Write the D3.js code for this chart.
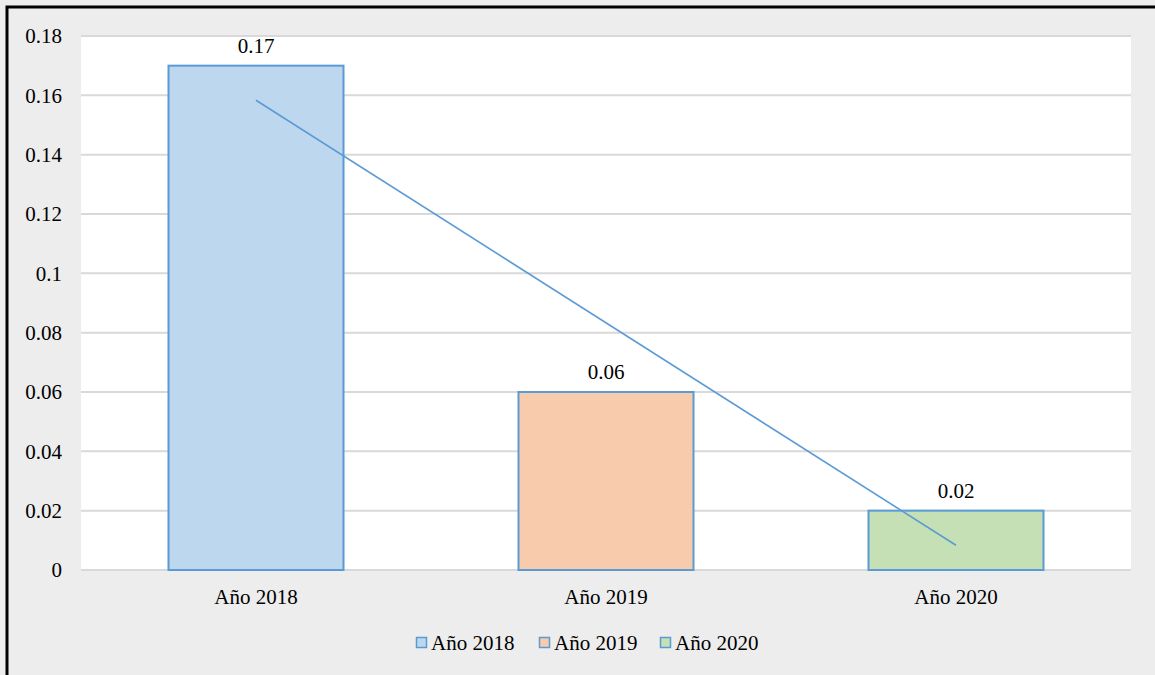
<!DOCTYPE html>
<html>
<head>
<meta charset="utf-8">
<script src="https://cdn.jsdelivr.net/npm/d3@7"></script>
<style>
  body { margin: 0; background: #fff; }
</style>
</head>
<body>
<div id="chart"></div>
<script>
const categories = ["Año 2018", "Año 2019", "Año 2020"];
const values = [0.17, 0.06, 0.02];
const barColours = ["#BDD7EE", "#F8CBAD", "#C5E0B4"];
const yTicks = [0, 0.02, 0.04, 0.06, 0.08, 0.1, 0.12, 0.14, 0.16, 0.18];

const width = 1155, height = 675;
const margin = { top: 36, right: 24, bottom: 105, left: 81 };
const fontFamily = "'Liberation Serif', 'Times New Roman', Times, serif";
const fontSize = "21px";

const svg = d3.select("#chart").append("svg")
  .attr("width", width)
  .attr("height", height)
  .attr("font-family", fontFamily)
  .attr("font-size", fontSize);

// background + frame
svg.append("rect").attr("x", 0).attr("y", 0).attr("width", width).attr("height", height).attr("fill", "#EDEDED");
svg.append("path")
  .attr("d", `M7,${height} V7 H${width}`)
  .attr("fill", "none").attr("stroke", "#000").attr("stroke-width", 3);

const x = d3.scaleBand().domain(categories)
  .range([margin.left, width - margin.right])
  .paddingInner(0.5).paddingOuter(0.25);

const y = d3.scaleLinear().domain([0, 0.18])
  .range([height - margin.bottom, margin.top]);

// plot area
svg.append("rect")
  .attr("x", margin.left).attr("y", margin.top)
  .attr("width", width - margin.left - margin.right)
  .attr("height", height - margin.top - margin.bottom)
  .attr("fill", "#fff");

// gridlines
svg.append("g").selectAll("line")
  .data(yTicks)
  .enter().append("line")
  .attr("x1", margin.left).attr("x2", width - margin.right)
  .attr("y1", d => y(d)).attr("y2", d => y(d))
  .attr("stroke", "#D9D9D9").attr("stroke-width", 2);

// y tick labels
svg.append("g").selectAll("text")
  .data(yTicks)
  .enter().append("text")
  .attr("x", 62).attr("y", d => y(d))
  .attr("dy", "0.35em")
  .attr("text-anchor", "end")
  .text(d => d3.format("")(d));

// bars
svg.append("g").selectAll("rect")
  .data(values)
  .enter().append("rect")
  .attr("x", (d, i) => x(categories[i]))
  .attr("y", d => y(d))
  .attr("width", x.bandwidth())
  .attr("height", d => y(0) - y(d))
  .attr("fill", (d, i) => barColours[i])
  .attr("stroke", "#5B9BD5").attr("stroke-width", 2);

// value labels
svg.append("g").selectAll("text")
  .data(values)
  .enter().append("text")
  .attr("x", (d, i) => x(categories[i]) + x.bandwidth() / 2)
  .attr("y", d => y(d) - 20)
  .attr("dy", "0.35em")
  .attr("text-anchor", "middle")
  .text(d => d);

// x labels
svg.append("g").selectAll("text")
  .data(categories)
  .enter().append("text")
  .attr("x", d => x(d) + x.bandwidth() / 2)
  .attr("y", 597)
  .attr("dy", "0.35em")
  .attr("text-anchor", "middle")
  .text(d => d);

// linear trendline (least squares over bar values)
const n = values.length;
const xs = values.map((d, i) => i + 1);
const mx = d3.mean(xs), my = d3.mean(values);
const slope = d3.sum(xs, (xi, i) => (xi - mx) * (values[i] - my)) / d3.sum(xs, xi => (xi - mx) ** 2);
const icpt = my - slope * mx;
const trend = [xs[0], xs[n - 1]].map(xi => ({ cat: categories[xi - 1], v: icpt + slope * xi }));

svg.append("path")
  .datum(trend)
  .attr("fill", "none")
  .attr("stroke", "#5B9BD5").attr("stroke-width", 1.6)
  .attr("d", d3.line()
    .x(d => x(d.cat) + x.bandwidth() / 2)
    .y(d => y(d.v)));

// legend
const legendX = [416, 539, 660];
const legend = svg.append("g").selectAll("g")
  .data(categories)
  .enter().append("g")
  .attr("transform", (d, i) => `translate(${legendX[i]}, 643)`);
legend.append("rect")
  .attr("x", 0.5).attr("y", -5.5)
  .attr("width", 10).attr("height", 10)
  .attr("fill", (d, i) => barColours[i])
  .attr("stroke", "#5B9BD5").attr("stroke-width", 1.5);
legend.append("text")
  .attr("x", 15).attr("y", 0)
  .attr("dy", "0.35em")
  .text(d => d);
</script>
</body>
</html>
